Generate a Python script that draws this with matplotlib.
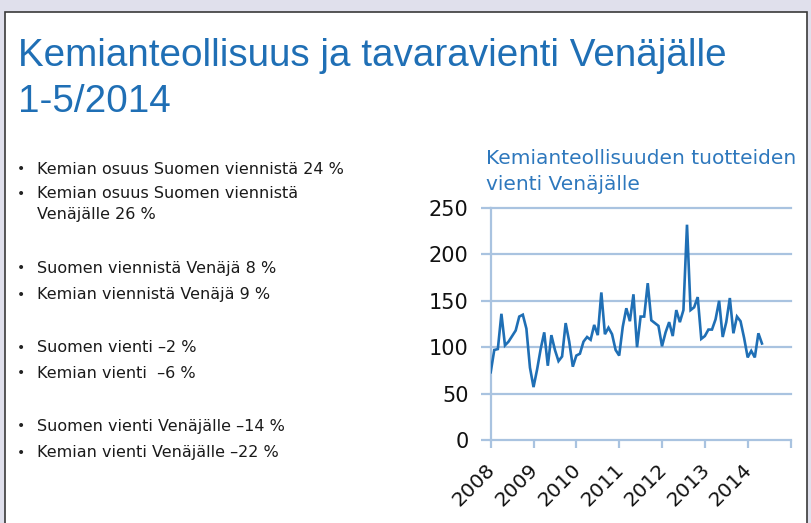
import matplotlib
matplotlib.use("Agg")
import matplotlib.pyplot as plt
import matplotlib.patches as patches
import matplotlib.transforms as mtransforms
import numpy as np

# kuukausittainen vienti, 1/2008 - 5/2014
vienti_2008 = [73, 97, 98, 136, 102, 106, 112, 118, 133, 135, 120, 78]
vienti_2009 = [57, 76, 98, 116, 80, 113, 97, 85, 90, 126, 106, 79]
vienti_2010 = [91, 93, 106, 111, 108, 124, 113, 159, 114, 121, 114, 97]
vienti_2011 = [91, 122, 142, 128, 157, 100, 133, 133, 169, 129, 126, 123]
vienti_2012 = [101, 116, 127, 112, 140, 127, 140, 232, 140, 143, 154, 109]
vienti_2013 = [112, 119, 119, 130, 150, 111, 127, 153, 115, 133, 128, 110]
vienti_2014 = [89, 96, 89, 115, 104]

vuodet = [2008, 2009, 2010, 2011, 2012, 2013, 2014]
y_ticks = [0, 50, 100, 150, 200, 250]

otsikko = ["Kemianteollisuus ja tavaravienti Venäjälle", "1-5/2014"]
kuvan_otsikko = ["Kemianteollisuuden tuotteiden", "vienti Venäjälle"]
luettelo = [
    ("Kemian osuus Suomen viennistä 24 %", 169),
    ("Kemian osuus Suomen viennistä\nVenäjälle 26 %", 194),
    ("Suomen viennistä Venäjä 8 %", 268),
    ("Kemian viennistä Venäjä 9 %", 295),
    ("Suomen vienti \u20132 %", 348),
    ("Kemian vienti  \u20136 %", 373),
    ("Suomen vienti Venäjälle \u201314 %", 426),
    ("Kemian vienti Venäjälle \u201322 %", 453),
]

vienti = vienti_2008 + vienti_2009 + vienti_2010 + vienti_2011 + vienti_2012 + vienti_2013 + vienti_2014
kk = 2008 + np.arange(len(vienti)) / 12.0

W, H = 811, 523
sininen = "#1f6fb5"
ruudukko = "#a9c3e0"

fig = plt.figure(figsize=(W / 100, H / 100), dpi=100)
fig.patch.set_facecolor("#e0e0ec")

# valkoinen dia
fig.patches.append(patches.Rectangle((5 / W, -0.01), 802 / W, 1.01 - 11.5 / H, transform=fig.transFigure,
                                     facecolor="white", edgecolor="#3a3a3a", linewidth=1.2, zorder=-10))

fig.text(18 / W, 1 - 56 / H, otsikko[0], color=sininen, fontsize=27.8,
         family="Liberation Sans", va="center", ha="left")
fig.text(18 / W, 1 - 102 / H, otsikko[1], color=sininen, fontsize=27.8,
         family="Liberation Sans", va="center", ha="left")

for teksti, y in luettelo:
    rivit = teksti.split("\n")
    fig.text(17 / W, 1 - y / H, "\u2022", fontsize=10, color="#222222", va="center", ha="left")
    for j, r in enumerate(rivit):
        fig.text(37 / W, 1 - (y + 21 * j) / H, r, fontsize=11.5, color="#1a1a1a",
                 va="center", ha="left")

fig.text(486 / W, 1 - 159 / H, kuvan_otsikko[0], color="#2e78bd", fontsize=14.5,
         va="center", ha="left")
fig.text(486 / W, 1 - 185 / H, kuvan_otsikko[1], color="#2e78bd", fontsize=14.5,
         va="center", ha="left")

ax = fig.add_axes([490.7 / W, 1 - 440 / H, 299.8 / W, 232 / H])
ax.set_facecolor("none")
ax.plot(kk, vienti, color=sininen, linewidth=1.9, solid_joinstyle="miter", zorder=3)
ax.set_xlim(2008, 2015)
ax.set_ylim(0, 250)
ax.set_yticks(y_ticks)
ax.set_xticks(vuodet + [2015])
ax.set_xticklabels([str(v) for v in vuodet] + [""])
for yv in y_ticks:
    ax.axhline(yv, color=ruudukko, linewidth=1.6, zorder=1, clip_on=False)
for s in ["top", "right", "bottom"]:
    ax.spines[s].set_visible(False)
ax.spines["left"].set_color(ruudukko)
ax.spines["left"].set_linewidth(1.6)
ax.tick_params(axis="y", length=7, width=1.6, color=ruudukko, labelsize=15, pad=9, labelcolor="#111111")
ax.tick_params(axis="x", length=6, width=1.6, color=ruudukko, labelsize=14.5, pad=8.5, labelcolor="#111111")
siirto = mtransforms.ScaledTranslation(-5 / 100, 0, fig.dpi_scale_trans)
for lab in ax.get_xticklabels():
    lab.set_rotation(45)
    lab.set_ha("right")
    lab.set_rotation_mode("anchor")
    lab.set_transform(lab.get_transform() + siirto)

fig.savefig("out.png", dpi=100)
